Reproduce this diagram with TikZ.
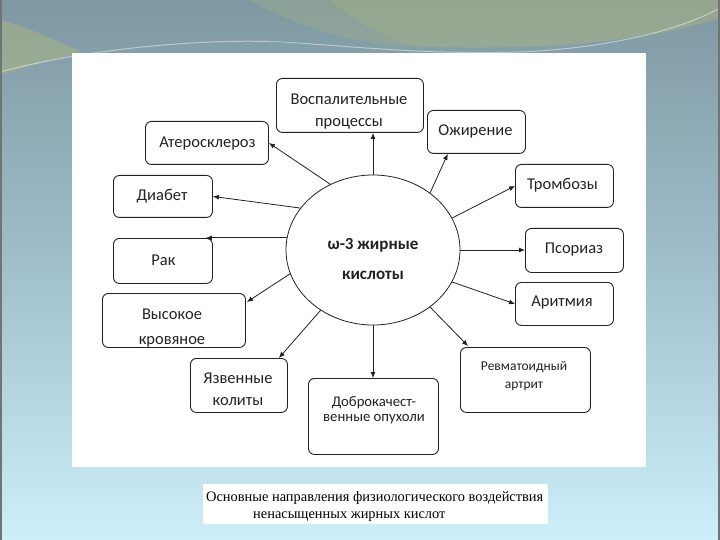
\documentclass[tikz,border=0pt]{standalone}
\usepackage{fontspec}
\setmainfont{Carlito}
\newfontfamily\capfont{Liberation Serif}
\usetikzlibrary{arrows.meta,shapes.geometric,calc}
\definecolor{bgtop}{HTML}{7F98A2}
\definecolor{bgmid}{HTML}{A0C0CC}
\definecolor{bgbot}{HTML}{CDEFF9}
\definecolor{khaki}{HTML}{A9B47E}
\definecolor{ink}{HTML}{222222}
\tikzset{
  box/.style={draw=ink, line width=0.9pt, rounded corners=6pt, fill=white, inner sep=0pt, anchor=north west},
  lbl/.style={font=\fontsize{16.5}{22}\selectfont, text=ink, align=center, inner sep=0pt},
  circ/.style={draw=ink, line width=0.8pt, ellipse, fill=white, inner sep=0pt, minimum width=174pt, minimum height=150pt},
  arr/.style={draw=ink, line width=0.8pt, -{Latex[length=6pt,width=5pt]}},
}
\begin{document}
\begin{tikzpicture}[x=1pt,y=-1pt]
\useasboundingbox (0,0) rectangle (720,540);
% background
\shade[top color=bgtop, bottom color=bgbot, middle color=bgmid] (0,0) rectangle (720,540);
\fill[khaki, opacity=0.5] (330,0) -- (720,0) -- (720,18) .. controls (650,40) and (560,50) .. (430,47) .. controls (390,44) and (360,25) .. (330,0) -- cycle;
\fill[khaki, opacity=0.3] (250,0) -- (330,0) .. controls (360,25) and (390,44) .. (430,47) .. controls (380,50) and (300,30) .. (250,0) -- cycle;
\fill[khaki, opacity=0.5] (0,20) .. controls (40,30) and (60,45) .. (80,50) -- (72,56) .. controls (40,62) and (20,70) .. (0,75) -- cycle;
\draw[white, opacity=0.45, line width=1pt] (0,72) .. controls (80,50) and (200,38) .. (280,42) .. controls (340,45) and (420,55) .. (520,52) .. controls (610,48) and (680,30) .. (720,8);
\draw[teal!60, opacity=0.5, line width=1.5pt] (270,42) -- (310,45);
\fill[black!55] (0,0) rectangle (2,540);
\fill[black!55] (718,0) rectangle (720,540);
% panels
\fill[white] (72,53) rectangle (646,467);
\fill[white] (203,484) rectangle (548,524);

% centre
\node[circ] (c) at (373,250) {};
\node[font=\bfseries\fontsize{17}{30}\selectfont, text=ink, align=center, inner sep=0pt] (ct) at (373,259) {ω-3 жирные\\кислоты};

% boxes
\node[box, minimum width=147pt, minimum height=54pt] (vosp) at (276,78) {};
\node[box, minimum width=123pt, minimum height=43pt] (ater) at (145,121) {};
\node[box, minimum width=99pt, minimum height=42pt] (diab) at (113,175) {};
\node[box, minimum width=98pt, minimum height=43pt] (ozh) at (427,110) {};
\node[box, minimum width=98pt, minimum height=43pt] (tromb) at (515,164) {};
\node[box, minimum width=98pt, minimum height=44pt] (psor) at (525,228) {};
\node[box, minimum width=98pt, minimum height=43pt] (arit) at (515,282) {};
\node[box, minimum width=99pt, minimum height=45pt] (rak) at (113,238) {};
\node[box, minimum width=143pt, minimum height=54pt] (vys) at (102,293) {};
\node[box, minimum width=97pt, minimum height=54pt] (yazv) at (190,358) {};
\node[box, minimum width=130pt, minimum height=76pt] (dobro) at (308,378) {};
\node[box, minimum width=130pt, minimum height=65pt] (revm) at (460,347) {};

% labels
\node[lbl] (vosp-t) at (349,112) {Воспалительные\\процессы};
\node[lbl] (ater-t) at (207.5,144) {Атеросклероз};
\node[lbl] (diab-t) at (162,196) {Диабет};
\node[lbl] (ozh-t) at (475.5,131) {Ожирение};
\node[lbl] (tromb-t) at (562.5,185) {Тромбозы};
\node[lbl] (psor-t) at (574,250) {Псориаз};
\node[lbl] (arit-t) at (562,303) {Аритмия};
\node[lbl] (rak-t) at (163.5,260) {Рак};
\node[lbl, font=\fontsize{16.5}{25}\selectfont] (vys-t) at (172,328) {Высокое\\кровяное};
\node[lbl] (yazv-t) at (238,389) {Язвенные\\колиты};
\node[lbl, font=\fontsize{14.7}{15}\selectfont] (dobro-t) at (374,410) {Доброкачест-\\венные опухоли};
\node[lbl, font=\fontsize{13.5}{18}\selectfont] (revm-t) at (524,376) {Ревматоидный\\артрит};

% caption
\node[font=\capfont\fontsize{14.4}{17}\selectfont, text=black, anchor=base west, inner sep=0pt] (cap1) at (206,501) {Основные направления физиологического воздействия};
\node[font=\capfont\fontsize{14.4}{17}\selectfont, text=black, anchor=base west, inner sep=0pt] (cap2) at (253,518) {ненасыщенных жирных кислот};

% connectors
\draw[arr] (c.90) -- (c.90 |- vosp.south);
\draw[arr] (c.123.5) -- (ater.east);
\draw[arr] (c.150) -- (diab.east);
\coordinate (ozhend) at ($(ozh.south west)!0.21!(ozh.south east)$);
\draw[arr] (c.45.5) -- (ozhend);
\draw[arr] (c.22) -- (tromb.west);
\draw[arr] (c.0) -- (c.0 -| psor.west);
\draw[arr] (c.-22.7) -- (arit.west);
\coordinate (rakend) at ($(rak.north east)+(-7,1)$);
\draw[arr] (c.172.6) -- (c.172.6 -| rakend);
\coordinate (vysend) at ($(vys.north east)+(1,9)$);
\draw[arr] (c.196) -- (vysend);
\coordinate (yazvend) at ($(yazv.north east)+(-9,0)$);
\draw[arr] (c.229.8) -- (yazvend);
\draw[arr] (c.270) -- (c.270 |- dobro.north);
\coordinate (revmend) at ($(revm.north west)+(8,-1)$);
\draw[arr] (c.-45) -- (revmend);
\end{tikzpicture}
\end{document}
